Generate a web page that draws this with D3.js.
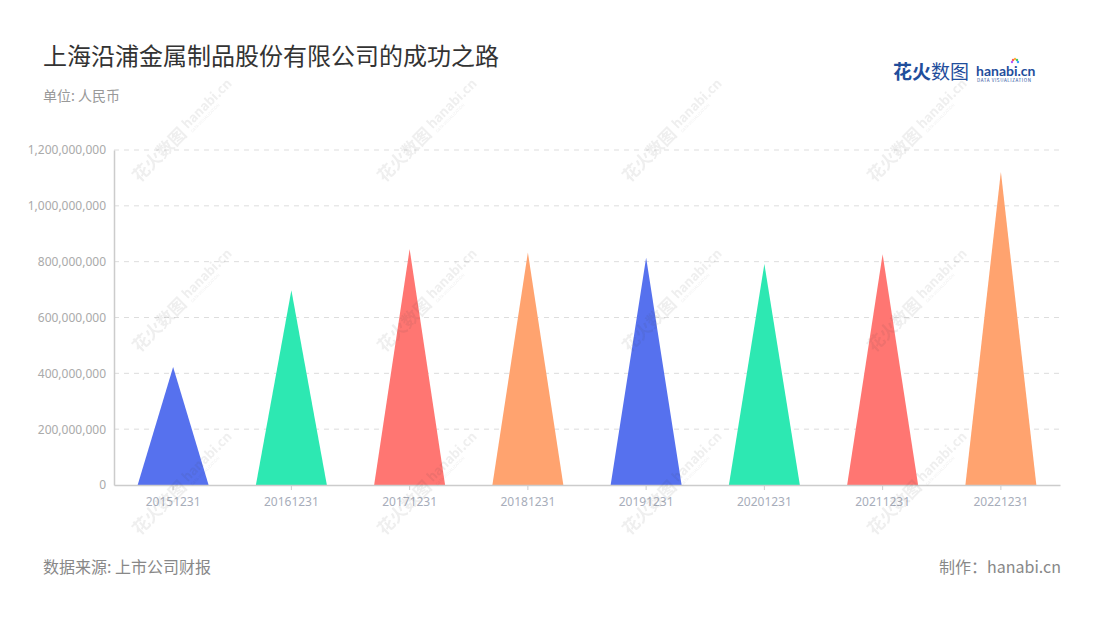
<!DOCTYPE html>
<html>
<head>
<meta charset="utf-8">
<script src="https://cdn.jsdelivr.net/npm/d3@7"></script>
<style>
  html, body { margin: 0; padding: 0; background: #fff; }
  svg { display: block; font-family: "Noto Sans CJK SC", "Noto Sans", sans-serif; }
</style>
</head>
<body>
<svg id="chart" width="1100" height="620"></svg>
<script>
const categories = ["20151231","20161231","20171231","20181231","20191231","20201231","20211231","20221231"];
const values = [423000000, 698000000, 845000000, 833000000, 814000000, 792000000, 827000000, 1122000000];
const colors = ["#5671EE", "#2DE8B2", "#FF7672", "#FFA36F"];
const yTicks = [0, 200000000, 400000000, 600000000, 800000000, 1000000000, 1200000000];

const svg = d3.select("#chart");
const W = 1100, H = 620;
const m = {left: 114, right: 40, top: 150, bottom: 135};
const x = d3.scaleBand().domain(categories).range([m.left, W - m.right]).paddingInner(0.4).paddingOuter(0.2);
const y = d3.scaleLinear().domain([0, 1200000000]).range([H - m.bottom, m.top]);

// title
svg.append("text").attr("x", 43).attr("y", 65).attr("font-size", 24).attr("fill", "#333").text("上海沿浦金属制品股份有限公司的成功之路");
svg.append("text").attr("x", 43).attr("y", 101).attr("font-size", 14).attr("fill", "#999").text("单位: 人民币");

// logo
const logo = svg.append("g").attr("transform", "translate(893,79)");
logo.append("text").attr("x", 0).attr("y", 0).attr("font-size", 19).attr("font-weight", "bold").attr("fill", "#1f4e9c").text("花火");
logo.append("text").attr("x", 38).attr("y", 0).attr("font-size", 19).attr("fill", "#1f4e9c").text("数图");
logo.append("text").attr("x", 83).attr("y", -3).attr("font-size", 14).attr("font-weight", "bold").attr("fill", "#1f4e9c").attr("font-family", "Lato, sans-serif").text("hanabi.cn");
logo.append("text").attr("x", 84).attr("y", 3).attr("font-size", 4.5).attr("fill", "#1f4e9c").attr("letter-spacing", 0.6).text("DATA VISUALIZATION");
const dotC = [["#ff5a5a",-2,-2],["#ffb33a",0,-3],["#3ec96f",2,-2],["#3aa0ff",3,0],["#b35aff",-3,0]];
dotC.forEach(d => logo.append("circle").attr("cx", 122 + d[1]).attr("cy", -17 + d[2]).attr("r", 1.2).attr("fill", d[0]));

// grid
svg.append("g").selectAll("line").data(yTicks.slice(1)).join("line")
  .attr("x1", m.left).attr("x2", W - m.right)
  .attr("y1", d => y(d)).attr("y2", d => y(d))
  .attr("stroke", "#ddd").attr("stroke-dasharray", "5,5");

// y axis
const yAxis = svg.append("g").attr("transform", `translate(${m.left},0)`)
  .call(d3.axisLeft(y).tickValues(yTicks).tickFormat(d3.format(",")).tickSize(0).tickPadding(8));
yAxis.select(".domain").attr("stroke", "#ccc").attr("stroke-width", 1.5);
yAxis.selectAll("text").attr("fill", "#aaa").attr("font-size", 12).attr("font-family", "'Noto Sans', sans-serif");

// triangles
svg.append("g").selectAll("path").data(categories).join("path")
  .attr("d", (c, i) => {
    const x0 = x(c), x1 = x(c) + x.bandwidth(), xc = x(c) + x.bandwidth() / 2;
    return `M${x0},${y(0)}L${xc},${y(values[i])}L${x1},${y(0)}Z`;
  })
  .attr("fill", (c, i) => colors[i % colors.length]);

// x axis
const xAxis = svg.append("g").attr("transform", `translate(0,${y(0)})`)
  .call(d3.axisBottom(x).tickSize(5).tickPadding(7).tickSizeOuter(0));
xAxis.select(".domain").attr("stroke", "#ccc").attr("stroke-width", 1.5);
xAxis.selectAll(".tick line").attr("stroke", "#ccc");
xAxis.selectAll("text").attr("fill", "#a7adba").attr("font-size", 12).attr("font-family", "'Noto Sans', sans-serif");

// footer
svg.append("text").attr("x", 43).attr("y", 573).attr("font-size", 16).attr("fill", "#888").text("数据来源: 上市公司财报");
svg.append("text").attr("x", 1061).attr("y", 573).attr("text-anchor", "end").attr("font-size", 16).attr("fill", "#888").text("制作：hanabi.cn");

// watermarks
const wmCols = [172, 417, 662, 907];
const wmRows = [142, 312, 495];
const wm = svg.append("g").attr("opacity", 0.09).attr("pointer-events", "none");
wmRows.forEach(ry => wmCols.forEach(cx => {
  const g = wm.append("g").attr("transform", `translate(${cx},${ry}) rotate(-45)`);
  g.append("text").attr("x", -52).attr("y", 6).attr("font-size", 17).attr("font-weight", "bold").attr("fill", "#444").text("花火数图");
  g.append("text").attr("x", 20).attr("y", 2).attr("font-size", 13).attr("font-weight", "bold").attr("fill", "#444").text("hanabi.cn");
  g.append("text").attr("x", 21).attr("y", 8).attr("font-size", 4).attr("fill", "#444").text("DATA VISUALIZATION");
}));
</script>
</body>
</html>
